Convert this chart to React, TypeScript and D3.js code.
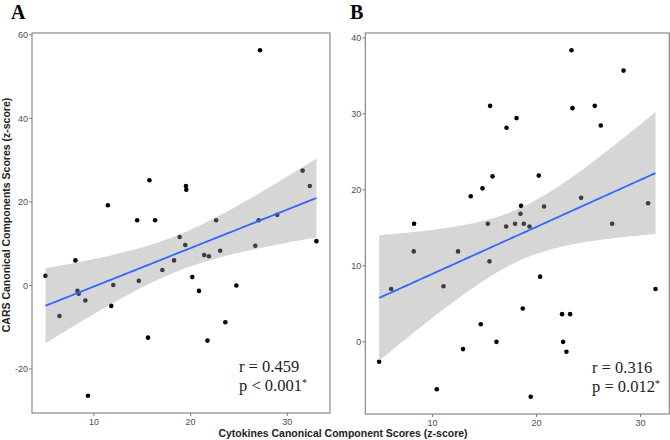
import React from "react";
import * as d3 from "d3";

// Panel A data (Cytokines vs CARS)
const aX = [27.19, 15.74, 19.52, 19.56, 11.44, 31.6, 32.34, 14.47, 16.33, 22.65, 27.05, 28.97, 33.03, 26.7, 18.87, 19.45, 21.41, 21.9, 23.06, 18.29, 17.08, 20.18, 14.64, 20.87, 24.74, 23.6, 21.75, 15.6, 9.38, 12.0, 11.79, 9.11, 8.29, 8.42, 8.08, 4.99, 6.43];
const aY = [56.3, 25.2, 23.8, 22.9, 19.2, 27.5, 23.8, 15.6, 15.6, 15.6, 15.6, 16.9, 10.6, 9.5, 11.6, 9.7, 7.3, 7.0, 8.3, 6.0, 3.7, 2.0, 1.1, -1.3, 0, -8.8, -13.2, -12.5, -26.4, 0.1, -4.9, -3.6, -1.3, -2.0, 6.0, 2.3, -7.3];

// Panel B data
const bX = [23.37, 28.37, 15.54, 23.46, 25.6, 18.08, 17.12, 26.18, 15.77, 20.22, 14.81, 13.68, 24.29, 30.73, 18.52, 20.73, 18.46, 8.23, 15.32, 17.08, 17.94, 18.78, 19.33, 27.27, 8.2, 12.46, 15.48, 20.35, 6.02, 11.06, 31.44, 18.68, 22.46, 23.23, 14.64, 16.15, 22.56, 12.94, 22.88, 4.87, 10.41, 19.45];
const bY = [38.37, 35.7, 31.06, 30.76, 31.06, 29.45, 28.18, 28.48, 21.78, 21.88, 20.2, 19.16, 18.95, 18.24, 17.9, 17.81, 16.85, 15.54, 15.54, 15.18, 15.54, 15.54, 15.18, 15.54, 11.9, 11.9, 10.59, 8.58, 6.96, 7.31, 6.96, 4.38, 3.64, 3.64, 2.32, 0, 0, -0.96, -1.31, -2.62, -6.25, -7.22];

const aXTicks = [10, 20, 30];
const aYTicks = [-20, 0, 20, 40, 60];
const bXTicks = [10, 20, 30];
const bYTicks = [0, 10, 20, 30, 40];

const aStats = ["r = 0.459", "p < 0.001"];
const bStats = ["r = 0.316", "p = 0.012"];

const xTitle = "Cytokines Canonical Component Scores (z-score)";
const yTitle = "CARS Canonical Components Scores (z-score)";

function fit(xs: number[], ys: number[]) {
  const n = xs.length;
  const mx = d3.mean(xs)!;
  const my = d3.mean(ys)!;
  let sxx = 0, sxy = 0;
  for (let i = 0; i < n; i++) {
    sxx += (xs[i] - mx) ** 2;
    sxy += (xs[i] - mx) * (ys[i] - my);
  }
  const b = sxy / sxx;
  const a = my - b * mx;
  let sse = 0;
  for (let i = 0; i < n; i++) sse += (ys[i] - a - b * xs[i]) ** 2;
  const s = Math.sqrt(sse / (n - 2));
  const df = n - 2;
  const t = 1.96 + 2.4 / df;
  const [x0, x1] = d3.extent(xs) as [number, number];
  const grid = d3.range(80).map((i) => x0 + ((x1 - x0) * i) / 79);
  return grid.map((x) => {
    const yh = a + b * x;
    const se = s * Math.sqrt(1 / n + (x - mx) ** 2 / sxx);
    return { x, y: yh, lo: yh - t * se, hi: yh + t * se };
  });
}

function expand(ext: [number, number]): [number, number] {
  const d = (ext[1] - ext[0]) * 0.05;
  return [ext[0] - d, ext[1] + d];
}

type PanelProps = {
  xs: number[];
  ys: number[];
  left: number;
  top: number;
  right: number;
  bottom: number;
  xTicks: number[];
  yTicks: number[];
  letter: string;
  letterX: number;
  stats: string[];
  statX: number;
};

function Panel(p: PanelProps) {
  const x = d3.scaleLinear().domain(expand(d3.extent(p.xs) as [number, number])).range([p.left, p.right]);
  const y = d3.scaleLinear().domain(expand(d3.extent(p.ys) as [number, number])).range([p.bottom, p.top]);
  const f = fit(p.xs, p.ys);
  const area = d3.area<any>().x((d) => x(d.x)).y0((d) => y(d.lo)).y1((d) => y(d.hi))(f)!;
  const line = d3.line<any>().x((d) => x(d.x)).y((d) => y(d.y))(f)!;
  const tickCol = "#4d4d4d";
  return (
    <g>
      <text x={p.letterX} y={19} fontFamily="'Liberation Serif', 'Times New Roman', serif" fontWeight="bold" fontSize={20} fill="#000">
        {p.letter}
      </text>
      <rect x={p.left} y={p.top} width={p.right - p.left} height={p.bottom - p.top} fill="#fff" />
      {p.xs.map((v, i) => (
        <circle key={i} cx={x(v)} cy={y(p.ys[i])} r={2.3} fill="#000" />
      ))}
      <path d={area} fill="#999999" fillOpacity={0.4} />
      <path d={line} fill="none" stroke="#3366FF" strokeWidth={1.8} />
      <rect x={p.left} y={p.top} width={p.right - p.left} height={p.bottom - p.top} fill="none" stroke="#7f7f7f" strokeWidth={1.1} />
      {p.xTicks.map((t) => (
        <g key={"x" + t}>
          <line x1={x(t)} x2={x(t)} y1={p.bottom} y2={p.bottom + 3} stroke="#7f7f7f" />
          <text x={x(t)} y={p.bottom + 12} textAnchor="middle" fontFamily="'Liberation Sans', Arial, sans-serif" fontSize={9} fill={tickCol}>
            {t}
          </text>
        </g>
      ))}
      {p.yTicks.map((t) => (
        <g key={"y" + t}>
          <line x1={p.left - 3} x2={p.left} y1={y(t)} y2={y(t)} stroke="#7f7f7f" />
          <text x={p.left - 4} y={y(t) + 3.2} textAnchor="end" fontFamily="'Liberation Sans', Arial, sans-serif" fontSize={9} fill={tickCol}>
            {t}
          </text>
        </g>
      ))}
      {p.stats.map((s, i) => (
        <text key={i} x={p.statX} y={p.bottom - 41 + i * 19} fontFamily="'Liberation Serif', 'Times New Roman', serif" fontSize={16.5} fill="#222">
          {s}
          {i === 1 ? (
            <tspan fontSize={10} dy={-5}>*</tspan>
          ) : null}
        </text>
      ))}
    </g>
  );
}

export default function App() {
  return (
    <svg width={670} height={440} style={{ position: "absolute", left: 0, top: 0 }}>
      <rect width={670} height={440} fill="#fff" />
      <Panel xs={aX} ys={aY} left={32} top={33} right={330} bottom={413} xTicks={aXTicks} yTicks={aYTicks} letter="A" letterX={11} stats={aStats} statX={239} />
      <Panel xs={bX} ys={bY} left={365.3} top={33} right={669.3} bottom={414} xTicks={bXTicks} yTicks={bYTicks} letter="B" letterX={350} stats={bStats} statX={592} />
      <text x={343} y={437} textAnchor="middle" fontFamily="'Liberation Sans', Arial, sans-serif" fontWeight="bold" fontSize={10.5} fill="#222">
        {xTitle}
      </text>
      <text transform="translate(10,215) rotate(-90)" textAnchor="middle" fontFamily="'Liberation Sans', Arial, sans-serif" fontWeight="bold" fontSize={10.5} fill="#222">
        {yTitle}
      </text>
    </svg>
  );
}
